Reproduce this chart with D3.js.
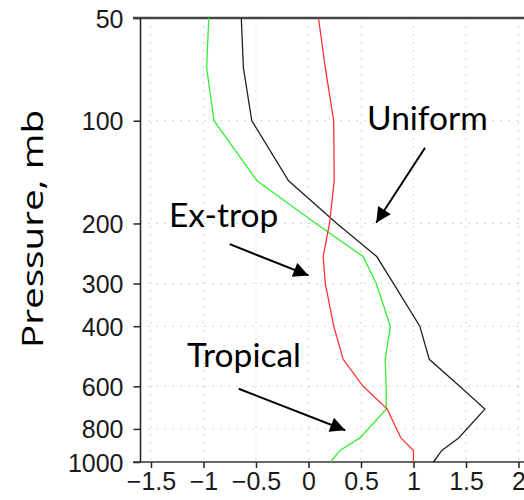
<!DOCTYPE html>
<html>
<head>
<meta charset="utf-8">
<script src="https://cdn.jsdelivr.net/npm/d3@7"></script>
<style>
  body { margin: 0; background: #fff; }
  svg { display: block; }
</style>
</head>
<body>
<div id="chart"></div>
<script>
// data
const pressure = [1000, 925, 850, 700, 600, 500, 400, 300, 250, 200, 150, 100, 70, 50];
const uniform  = [1.19, 1.27, 1.43, 1.68, 1.44, 1.15, 1.06, 0.81, 0.65, 0.27, -0.19, -0.54, -0.62, -0.64];
const extrop   = [0.21, 0.30, 0.49, 0.74, 0.74, 0.73, 0.78, 0.645, 0.52, 0.07, -0.49, -0.90, -0.97, -0.95];
const tropical = [1.00, 1.00, 0.88, 0.75, 0.52, 0.33, 0.24, 0.16, 0.14, 0.20, 0.245, 0.24, 0.16, 0.095];
const xTicks = [-1.5, -1, -0.5, 0, 0.5, 1, 1.5, 2];
const yTicks = [50, 100, 200, 300, 400, 600, 800, 1000];

// annotations: label, arrow start [value, pressure], arrow tip [value, pressure]
const notes = [
  {label: "Uniform",  tx: 367, ty: 130, from: [1.11, 120],  to: [0.645, 199]},
  {label: "Ex-trop",  tx: 169, ty: 227, from: [-0.75, 230], to: [0.0, 284]},
  {label: "Tropical", tx: 187, ty: 367, from: [-0.665, 610], to: [0.35, 807]}
];

const W = 524, H = 500;
const margin = {top: 18, left: 140.5, bottom: 38};
const plotBottom = H - margin.bottom;

let x = d3.scaleLinear().domain([-1.6, 2.1]).range([margin.left, margin.left + 3.7 * 105]);
let y = d3.scaleLog().domain([50, 1000]).range([margin.top, plotBottom]);

let svg = d3.select("#chart")
  .append("svg")
  .attr("width", W)
  .attr("height", H);

// grid
svg.append("g")
  .selectAll("line")
  .data(xTicks)
  .enter()
  .append("line")
  .attr("x1", d => x(d)).attr("x2", d => x(d))
  .attr("y1", margin.top).attr("y2", plotBottom)
  .attr("stroke", "#c8c8c8")
  .attr("stroke-dasharray", "1.5,6.5");

svg.append("g")
  .selectAll("line")
  .data(yTicks.filter(d => d !== 50 && d !== 1000))
  .enter()
  .append("line")
  .attr("x1", margin.left).attr("x2", W)
  .attr("y1", d => y(d)).attr("y2", d => y(d))
  .attr("stroke", "#c8c8c8")
  .attr("stroke-dasharray", "1.5,6.5");

// axes
let xAxis = d3.axisBottom(x)
  .tickValues(xTicks)
  .tickSize(6)
  .tickSizeOuter(0)
  .tickFormat(d3.format("~g"));

let yAxis = d3.axisLeft(y)
  .tickValues(yTicks)
  .tickSize(7)
  .tickSizeOuter(0)
  .tickFormat(d3.format("d"));

let gx = svg.append("g")
  .attr("transform", `translate(0,${plotBottom})`)
  .call(xAxis);

let gy = svg.append("g")
  .attr("transform", `translate(${margin.left},0)`)
  .call(yAxis);

[gx, gy].forEach(g => {
  g.select(".domain").remove();
  g.selectAll(".tick line").attr("stroke", "#222").attr("stroke-width", 1.5);
  g.selectAll("text")
    .attr("fill", "#1a1a1a")
    .style("font-family", "Liberation Sans, Arial, sans-serif")
    .style("font-size", "25px");
});
gx.selectAll("text").attr("y", 9).attr("dy", "0.75em");
gy.selectAll("text").attr("x", -17).attr("dy", "0.36em");

// axis lines
svg.append("line")
  .attr("x1", 133).attr("x2", W)
  .attr("y1", plotBottom).attr("y2", plotBottom)
  .attr("stroke", "#333").attr("stroke-width", 1.5);
svg.append("line")
  .attr("x1", 133).attr("x2", W)
  .attr("y1", margin.top).attr("y2", margin.top)
  .attr("stroke", "#444").attr("stroke-width", 2.5);
svg.append("line")
  .attr("x1", margin.left).attr("x2", margin.left)
  .attr("y1", margin.top).attr("y2", plotBottom)
  .attr("stroke", "#222").attr("stroke-width", 1.5);

// profiles
const series = [
  {values: uniform,  color: "#222222"},
  {values: extrop,   color: "#33ee33"},
  {values: tropical, color: "#ff3333"}
];

let line = d3.line()
  .x(d => x(d[0]))
  .y(d => y(d[1]));

svg.selectAll(".profile")
  .data(series)
  .enter()
  .append("path")
  .attr("class", "profile")
  .attr("fill", "none")
  .attr("stroke", d => d.color)
  .attr("stroke-width", 1.3)
  .attr("d", d => line(d.values.map((v, i) => [v, pressure[i]])));

// y title (stretched along its length like the original)
svg.append("text")
  .attr("transform", "translate(43,229) rotate(-90)")
  .style("text-anchor", "middle")
  .style("font-family", "'Open Sans', Lato, sans-serif")
  .style("font-size", "30px")
  .attr("textLength", 238)
  .attr("lengthAdjust", "spacingAndGlyphs")
  .attr("fill", "#000")
  .text("Pressure, mb");

// arrowhead
svg.append("defs").append("marker")
  .attr("id", "head")
  .attr("viewBox", "0 0 10 10")
  .attr("refX", 10).attr("refY", 5)
  .attr("markerUnits", "userSpaceOnUse")
  .attr("markerWidth", 17).attr("markerHeight", 15)
  .attr("orient", "auto")
  .append("path")
  .attr("d", "M0,0 L10,5 L0,10 Z")
  .attr("fill", "#000");

// annotations
svg.selectAll(".note")
  .data(notes)
  .enter()
  .append("text")
  .attr("class", "note")
  .attr("x", d => d.tx)
  .attr("y", d => d.ty)
  .style("font-family", "Lato, 'Open Sans', sans-serif")
  .style("font-size", "33.5px")
  .attr("fill", "#000")
  .text(d => d.label);

svg.selectAll(".arrow")
  .data(notes)
  .enter()
  .append("line")
  .attr("class", "arrow")
  .attr("x1", d => x(d.from[0])).attr("y1", d => y(d.from[1]))
  .attr("x2", d => x(d.to[0])).attr("y2", d => y(d.to[1]))
  .attr("stroke", "#000")
  .attr("stroke-width", 2)
  .attr("marker-end", "url(#head)");
</script>
</body>
</html>
